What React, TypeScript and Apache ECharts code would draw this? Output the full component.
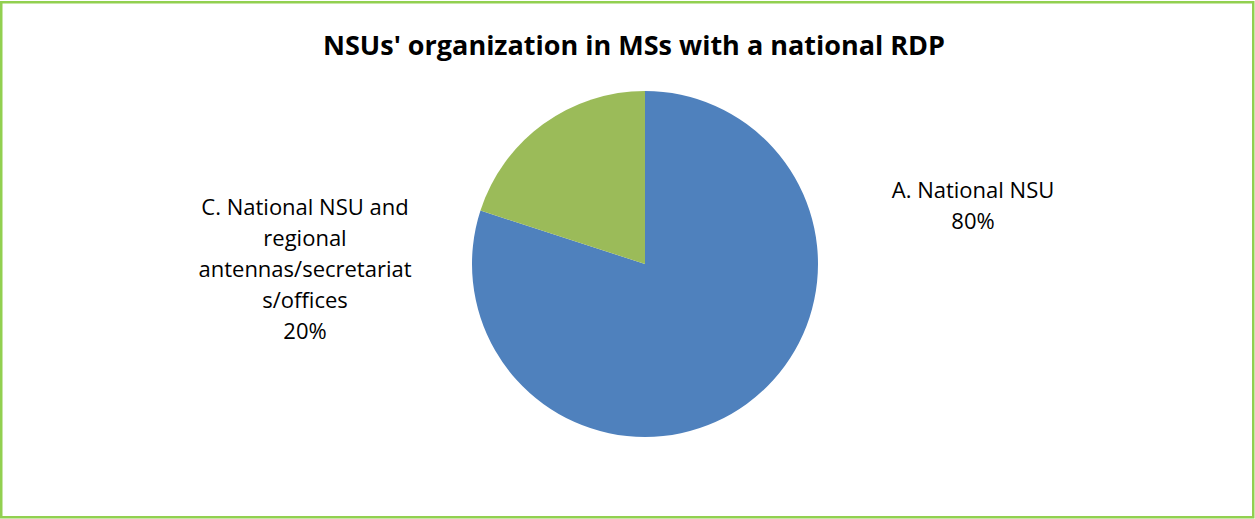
import React, { useEffect, useRef } from "react";
import * as echarts from "echarts";

const titleText = "NSUs' organization in MSs with a national RDP";
const categories = [
  "A. National NSU",
  "C. National NSU and regional antennas/secretariats/offices",
];
const labelTexts = [
  "A. National NSU",
  "C. National NSU and\nregional\nantennas/secretariat\ns/offices",
];
const values = [80, 20];
const colors = ["#4F81BD", "#9BBB59"];
const labelAnchors = [
  [973, 204],
  [305, 268],
];

export default function App() {
  const ref = useRef<HTMLDivElement>(null);
  useEffect(() => {
    document.body.style.margin = "0";
    const chart = echarts.init(ref.current!, null, { renderer: "svg" });
    chart.setOption({
      animation: false,
      backgroundColor: "#FFFFFF",
      title: {
        text: titleText,
        left: 629,
        textAlign: "center",
        top: 26,
        textStyle: {
          fontFamily: "Open Sans",
          fontWeight: "bold",
          fontSize: 27,
          color: "#000000",
        },
      },
      graphic: [
        {
          type: "rect",
          shape: { x: 1.25, y: 2.25, width: 1252, height: 515 },
          style: { fill: "none", stroke: "#92D050", lineWidth: 2.5 },
          silent: true,
        },
      ],
      series: [
        {
          type: "pie",
          center: [645, 264],
          radius: 173,
          startAngle: 90,
          clockwise: true,
          label: {
            show: true,
            position: "outside",
            fontFamily: "Open Sans",
            fontSize: 22,
            lineHeight: 31,
            color: "#000000",
            align: "center",
            formatter: (p: any) => `${labelTexts[p.dataIndex]}\n${p.value}%`,
          },
          labelLine: { show: false },
          labelLayout: (p: any) => ({
            x: labelAnchors[p.dataIndex][0],
            y: labelAnchors[p.dataIndex][1],
            align: "center",
            verticalAlign: "middle",
          }),
          data: categories.map((name, i) => ({
            name,
            value: values[i],
            itemStyle: { color: colors[i] },
          })),
        },
      ],
    });
    return () => chart.dispose();
  }, []);
  return (
    <div
      ref={ref}
      style={{ position: "absolute", left: 0, top: 0, width: 1255, height: 519 }}
    />
  );
}
